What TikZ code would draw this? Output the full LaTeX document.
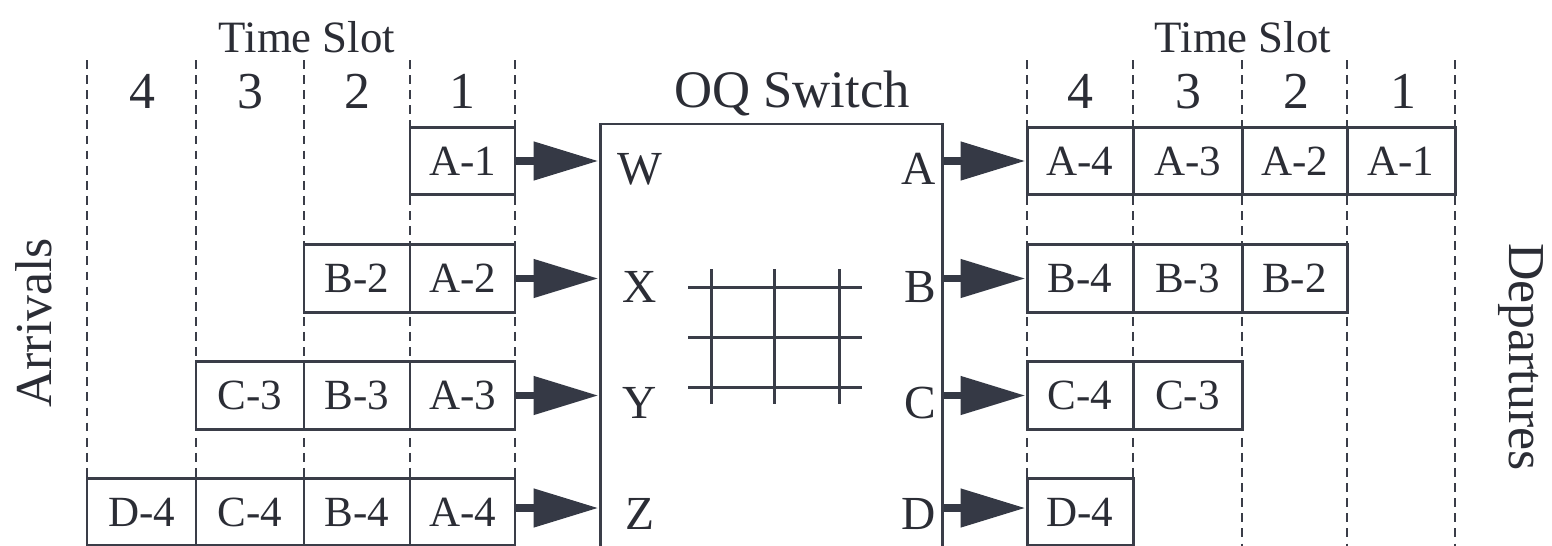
\documentclass[tikz,border=0pt]{standalone}
\usepackage{fontspec}
\setmainfont{Liberation Serif}
\usetikzlibrary{arrows.meta}
\definecolor{lc}{HTML}{3A3D48}
\definecolor{tc}{HTML}{2B2D35}
\definecolor{ac}{HTML}{353945}
\begin{document}
\begin{tikzpicture}[x=0.02cm,y=-0.02cm,
  cell/.style={draw=lc, line width=1.7pt, minimum width=#1*0.02cm, minimum height=67.5*0.02cm,
    inner sep=0pt, text=tc, font=\fontsize{24.5}{27}\selectfont},
  slotline/.style={draw=lc, line width=1.6pt, dash pattern=on 5pt off 3.6pt},
  flow/.style={draw=ac, line width=4.5pt, -{Triangle[length=36.9pt,width=21pt]}},
  slotnum/.style={text=tc, anchor=base, inner sep=0pt, font=\fontsize{29.5}{32}\selectfont},
  slothead/.style={text=tc, anchor=base, inner sep=0pt, font=\fontsize{25.5}{28}\selectfont},
  port/.style={text=tc, inner sep=0pt, font=\fontsize{27}{30}\selectfont},
  sidelabel/.style={text=tc, inner sep=0pt, font=\fontsize{29.5}{32}\selectfont},
  gridline/.style={draw=lc, line width=1.7pt}]
\useasboundingbox (0,0) rectangle (1552,545);
\clip (0,0) rectangle (1552,545);
\fill[white] (0,0) rectangle (1552,545);

% dashed time-slot lines
\foreach \x in {87,196,304,410,515,1027,1133,1242,1347,1455}
  \draw[slotline] (\x,60) -- (\x,548);

% headings
\node[slothead] (tsl) at (307,52) {Time Slot};
\node[slothead] (tsr) at (1243,52) {Time Slot};
\node[slothead, font=\fontsize{30}{33}\selectfont] (oq) at (792,107) {OQ Switch};
\node[slotnum] (nl4) at (142,108) {4};
\node[slotnum] (nl3) at (250,108) {3};
\node[slotnum] (nl2) at (357,108) {2};
\node[slotnum] (nl1) at (462,108) {1};
\node[slotnum] (nr4) at (1080,108) {4};
\node[slotnum] (nr3) at (1188,108) {3};
\node[slotnum] (nr2) at (1296,108) {2};
\node[slotnum] (nr1) at (1403,108) {1};

\node[sidelabel, rotate=90] (arr) at (34,323) {Arrivals};
\node[sidelabel, rotate=-90] (dep) at (1521,357) {Departures};

% switch
\node[draw=lc, line width=1.7pt, fill=white, minimum width=342*0.02cm, minimum height=436*0.02cm, inner sep=0pt]
  (sw) at (771,342) {};
\foreach \y in {287,337,387} \draw[gridline] (688,\y) -- (862,\y);
\foreach \x in {711,774,839} \draw[gridline] (\x,269) -- (\x,404);
\node[port] (pW) at (640,169) {W};
\node[port] (pX) at (640,287) {X};
\node[port] (pY) at (640,403) {Y};
\node[port] (pZ) at (640,514) {Z};
\node[port, anchor=east] (pA) at (936,169) {A};
\node[port, anchor=east] (pB) at (936,287) {B};
\node[port, anchor=east] (pC) at (936,403) {C};
\node[port, anchor=east] (pD) at (936,514) {D};

% arrival cells
\node[cell=105] (LA1) at (462.5,161) {A-1};
\node[cell=106] (LB2) at (357,278.5) {B-2};
\node[cell=105] (LB1) at (462.5,278.5) {A-2};
\node[cell=108] (LC3) at (250,395.5) {C-3};
\node[cell=106] (LC2) at (357,395.5) {B-3};
\node[cell=105] (LC1) at (462.5,395.5) {A-3};
\node[cell=109] (LD4) at (141.5,512) {D-4};
\node[cell=108] (LD3) at (250,512) {C-4};
\node[cell=106] (LD2) at (357,512) {B-4};
\node[cell=105] (LD1) at (462.5,512) {A-4};

% departure cells
\node[cell=106] (RA4) at (1080,161) {A-4};
\node[cell=109] (RA3) at (1187.5,161) {A-3};
\node[cell=105] (RA2) at (1294.5,161) {A-2};
\node[cell=108] (RA1) at (1401,161) {A-1};
\node[cell=106] (RB4) at (1080,278.5) {B-4};
\node[cell=109] (RB3) at (1187.5,278.5) {B-3};
\node[cell=105] (RB2) at (1294.5,278.5) {B-2};
\node[cell=106] (RC4) at (1080,395.5) {C-4};
\node[cell=109] (RC3) at (1187.5,395.5) {C-3};
\node[cell=106] (RD4) at (1080,512) {D-4};

% input arrows
\draw[flow] (LA1.east) -- (LA1.east -| sw.west);
\draw[flow] (LB1.east) -- (LB1.east -| sw.west);
\draw[flow] (LC1.east) -- (LC1.east -| sw.west);
\draw[flow] ([yshift=0.08cm]LD1.east) -- ([yshift=0.08cm]LD1.east -| sw.west);
% output arrows
\draw[flow] (RA4.west -| sw.east) -- (RA4.west);
\draw[flow] (RB4.west -| sw.east) -- (RB4.west);
\draw[flow] (RC4.west -| sw.east) -- (RC4.west);
\draw[flow] ([yshift=0.08cm]RD4.west -| sw.east) -- ([yshift=0.08cm]RD4.west);
\end{tikzpicture}
\end{document}
